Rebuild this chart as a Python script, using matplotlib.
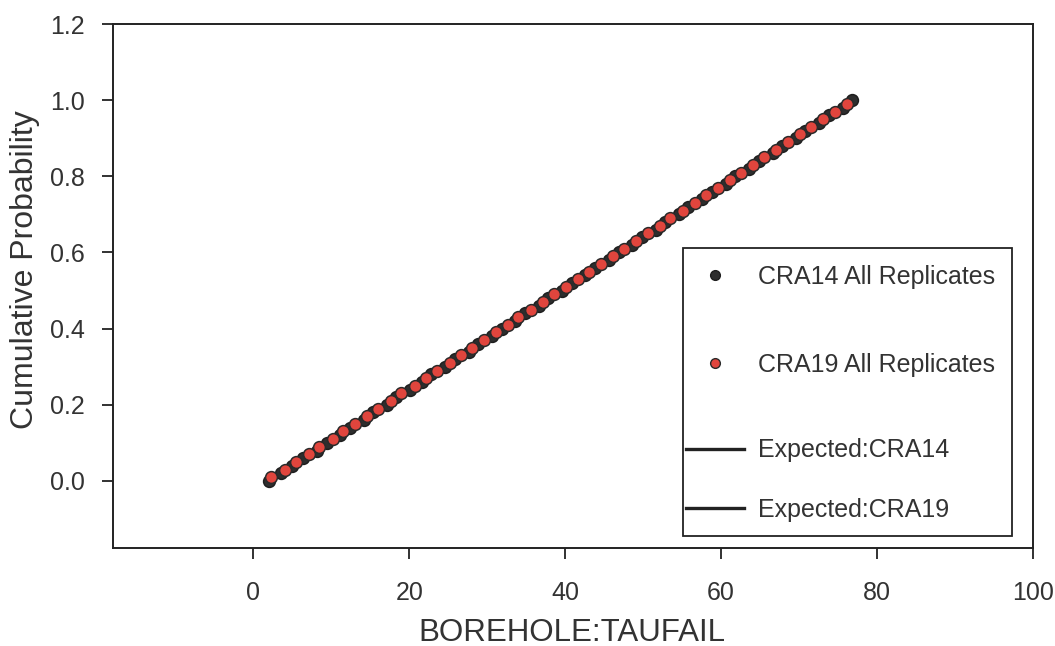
import matplotlib
matplotlib.use("Agg")
import matplotlib.pyplot as plt
from matplotlib.lines import Line2D
from matplotlib.patches import Rectangle

plt.rcParams['font.family'] = ['Liberation Sans', 'DejaVu Sans']

# Sorted TAUFAIL samples and their cumulative probabilities
cra14_taufail = [2.0, 3.6, 4.9, 6.4, 8.2, 9.4, 11.1, 12.4, 14.2, 15.4,
                 17.1, 18.3, 20.1, 21.6, 22.8, 24.6, 25.9, 27.6, 28.8, 30.6,
                 31.9, 33.6, 34.8, 36.6, 37.8, 39.6, 40.9, 42.6, 43.8, 45.6,
                 46.9, 48.6, 49.8, 51.6, 52.8, 54.6, 55.8, 57.6, 58.8, 60.6,
                 61.8, 63.6, 64.8, 66.6, 67.8, 69.6, 70.8, 72.6, 73.8, 75.6,
                 76.8]
cra14_prob = [0.00, 0.02, 0.04, 0.06, 0.08, 0.10, 0.12, 0.14, 0.16, 0.18,
              0.20, 0.22, 0.24, 0.26, 0.28, 0.30, 0.32, 0.34, 0.36, 0.38,
              0.40, 0.42, 0.44, 0.46, 0.48, 0.50, 0.52, 0.54, 0.56, 0.58,
              0.60, 0.62, 0.64, 0.66, 0.68, 0.70, 0.72, 0.74, 0.76, 0.78,
              0.80, 0.82, 0.84, 0.86, 0.88, 0.90, 0.92, 0.94, 0.96, 0.98,
              1.00]

cra19_taufail = [2.3, 4.1, 5.5, 7.1, 8.4, 10.2, 11.5, 13.1, 14.6, 16.0,
                 17.7, 19.0, 20.7, 22.1, 23.5, 25.2, 26.6, 28.1, 29.6, 31.1,
                 32.6, 34.0, 35.6, 37.1, 38.5, 40.1, 41.6, 43.0, 44.6, 46.1,
                 47.6, 49.1, 50.6, 52.1, 53.5, 55.1, 56.6, 58.0, 59.6, 61.1,
                 62.6, 64.1, 65.5, 67.1, 68.6, 70.1, 71.5, 73.1, 74.6, 76.1]
cra19_prob = [0.01, 0.03, 0.05, 0.07, 0.09, 0.11, 0.13, 0.15, 0.17, 0.19,
              0.21, 0.23, 0.25, 0.27, 0.29, 0.31, 0.33, 0.35, 0.37, 0.39,
              0.41, 0.43, 0.45, 0.47, 0.49, 0.51, 0.53, 0.55, 0.57, 0.59,
              0.61, 0.63, 0.65, 0.67, 0.69, 0.71, 0.73, 0.75, 0.77, 0.79,
              0.81, 0.83, 0.85, 0.87, 0.89, 0.91, 0.93, 0.95, 0.97, 0.99]

# Expected (uniform) CDFs
expected14_x = [1.7, 76.7]
expected14_p = [0.0, 1.0]
expected19_x = [1.7, 76.7]
expected19_p = [0.0, 1.0]

x_ticks = [0, 20, 40, 60, 80, 100]
y_ticks = [0.0, 0.2, 0.4, 0.6, 0.8, 1.0, 1.2]

INK = '#222222'
TXT = '#333333'
RED = '#e0453d'
DARK = '#2e2e2e'

W, H = 1055, 646
L, R, T, B = 113, 1033, 24, 548

fig = plt.figure(figsize=(W / 100, H / 100), dpi=100)
ax = fig.add_axes([L / W, 1 - B / H, (R - L) / W, (B - T) / H])


def ax_xy(px, py):
    """Pixel position in the figure -> axes fraction."""
    return (px - L) / (R - L), (B - py) / (B - T)


ax.plot(expected14_x, expected14_p, color=INK, lw=2, zorder=1)
ax.plot(expected19_x, expected19_p, color=INK, lw=2, zorder=1)
ax.plot(cra14_taufail, cra14_prob, ls='none', marker='o', ms=8.5,
        mfc=DARK, mec='#1e1e1e', mew=1.1, zorder=2)
ax.plot(cra19_taufail, cra19_prob, ls='none', marker='o', ms=8.5,
        mfc=RED, mec='#2a2a2a', mew=1.1, zorder=3)

ax.set_xlim(-18, 100)
ax.set_ylim(-0.176, 1.2)
ax.set_xticks(x_ticks)
ax.set_yticks(y_ticks)
ax.set_yticklabels([f"{v:.1f}" for v in y_ticks])
ax.tick_params(direction='out', length=8, width=1.3, labelsize=18,
               colors=INK, labelcolor=TXT, top=False, right=False)
ax.tick_params(axis='x', pad=16)
ax.tick_params(axis='y', pad=12)
for s in ax.spines.values():
    s.set_linewidth(1.4)
    s.set_color(INK)

ax.set_xlabel('BOREHOLE:TAUFAIL', fontsize=22.5, color=TXT, va='center')
ax.xaxis.set_label_coords(*ax_xy(572, 633))
ax.set_ylabel('Cumulative Probability', fontsize=23, color=TXT, va='center')
ax.yaxis.set_label_coords(*ax_xy(25, 270))

# Legend: framed box holding a marker group and a line group
x0, y0 = ax_xy(683, 536)
x1, y1 = ax_xy(1012, 248)
frame = Rectangle((x0, y0), x1 - x0, y1 - y0, transform=ax.transAxes,
                  facecolor='white', edgecolor=INK, lw=1.3, zorder=6)
ax.add_patch(frame)

leg_kw = dict(loc='center left', frameon=False, fontsize=18,
              handlelength=2.3, handletextpad=0.6, borderpad=0,
              borderaxespad=0, labelcolor=TXT)

marker_handles = [
    Line2D([], [], ls='none', marker='o', ms=7, mfc=DARK, mec='#1e1e1e'),
    Line2D([], [], ls='none', marker='o', ms=7, mfc=RED, mec='#2a2a2a'),
]
leg_a = ax.legend(marker_handles, ['CRA14 All Replicates', 'CRA19 All Replicates'],
                  bbox_to_anchor=ax_xy(686, 321), labelspacing=2.55, **leg_kw)
leg_a.set_zorder(7)
ax.add_artist(leg_a)

line_handles = [Line2D([], [], color=INK, lw=2.4),
                Line2D([], [], color=INK, lw=2.4)]
leg_b = ax.legend(line_handles, ['Expected:CRA14', 'Expected:CRA19'],
                  bbox_to_anchor=ax_xy(686, 480), labelspacing=1.4, **leg_kw)
leg_b.set_zorder(7)

fig.savefig('out.png', dpi=100)
